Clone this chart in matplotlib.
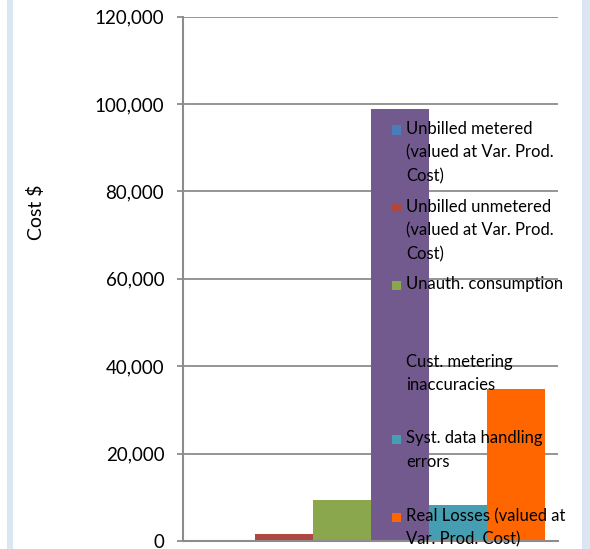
import matplotlib
matplotlib.use("Agg")
import matplotlib.pyplot as plt
from matplotlib.patches import Rectangle
import numpy as np

# data
series = [
    "Unbilled metered\n(valued at Var. Prod.\nCost)",
    "Unbilled unmetered\n(valued at Var. Prod.\nCost)",
    "Unauth. consumption",
    "Cust. metering\ninaccuracies",
    "Syst. data handling\nerrors",
    "Real Losses (valued at\nVar. Prod. Cost)",
]
values = [0, 1500, 9300, 98900, 8300, 34800]
colors = ["#4A7EBB", "#AE4641", "#8BA74E", "#725A8F", "#469EB2", "#FF6600"]
yticks = [0, 20000, 40000, 60000, 80000, 100000, 120000]

W, H = 590, 549
plt.rcParams["font.family"] = ["Lato", "DejaVu Sans"]

fig = plt.figure(figsize=(W / 100, H / 100), dpi=100)
fig.patch.set_facecolor("white")

# light blue frame strips at the sides
for x0, x1 in [(7, 13), (582, 590)]:
    fig.patches.append(Rectangle((x0 / W, 0), (x1 - x0) / W, 1,
                                 transform=fig.transFigure,
                                 facecolor="#DCE6F2", edgecolor="none", zorder=0))

ax = fig.add_axes([183 / W, 1 - 541 / H, (558 - 183) / W, (541 - 16.5) / H])
ax.set_facecolor("white")

x = np.arange(len(values))
ax.bar(x, values, width=1.0, color=colors, zorder=2)

ax.set_xlim(-0.75, 5.73)
ax.set_ylim(0, 120000)
ax.set_yticks(yticks)
ax.set_yticklabels([f"{v:,}" for v in yticks], fontsize=13.5)
ax.set_xticks([])
ax.grid(axis="y", color="#8C8C8C", linewidth=1.3, zorder=1)
ax.tick_params(axis="y", length=4.5, width=1.3, color="#8C8C8C", pad=9)
for s in ["top", "right"]:
    ax.spines[s].set_visible(False)
ax.spines["left"].set_color("#8C8C8C")
ax.spines["left"].set_linewidth(1.5)
ax.spines["bottom"].set_color("#8C8C8C")
ax.spines["bottom"].set_linewidth(1.5)

fig.text(36 / W, 1 - 212 / H, "Cost $", rotation=90, fontsize=14,
         ha="center", va="center")

# legend, laid out like the Excel one (first line centre of each entry)
entry_y = [130, 207.6, 285.4, 362.7, 439.4, 517]
for name, col, yy in zip(series, colors, entry_y):
    fig.patches.append(Rectangle((392 / W, 1 - (yy + 4.5) / H), 9 / W, 9 / H,
                                 transform=fig.transFigure,
                                 facecolor=col, edgecolor="none", zorder=5))
    fig.text(406 / W, 1 - (yy - 9) / H, name, fontsize=12, ha="left",
             va="top", linespacing=1.58, zorder=6)

fig.savefig("out.png", dpi=100)
